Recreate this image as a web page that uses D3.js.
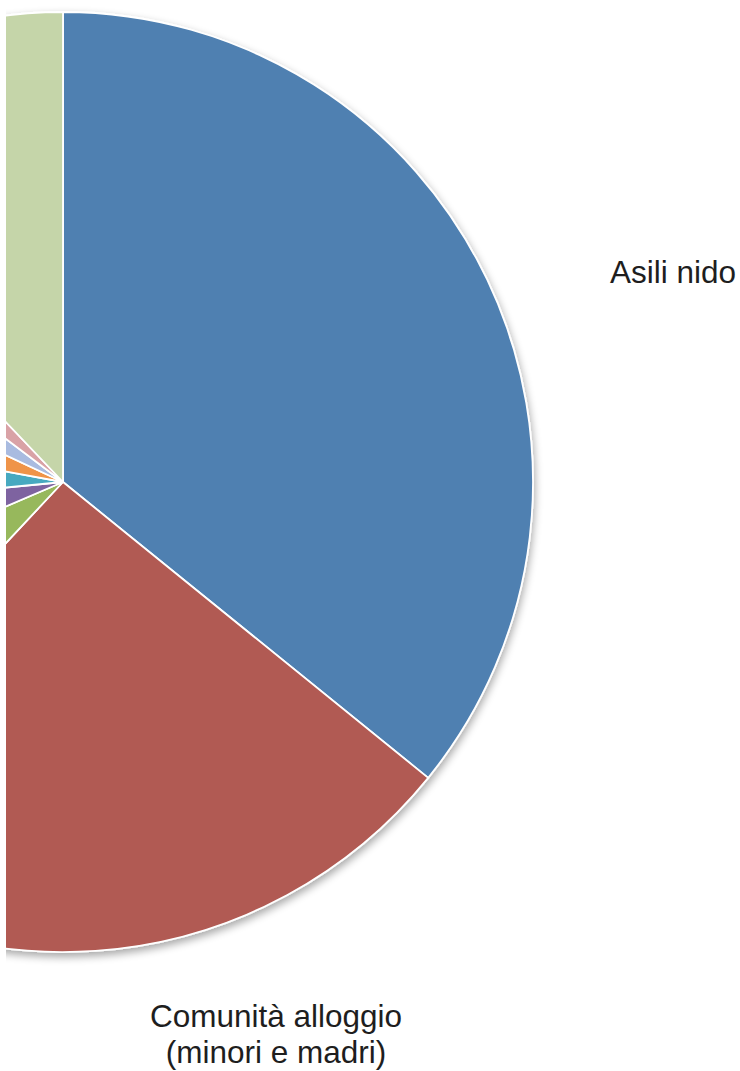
<!DOCTYPE html>
<html>
<head>
<meta charset="utf-8">
<script src="https://cdn.jsdelivr.net/npm/d3@7"></script>
<style>
  html, body { margin: 0; padding: 0; background: #ffffff; }
  svg { display: block; }
</style>
</head>
<body>
<svg id="chart"></svg>
<script>
// Service shares (%), clockwise from 12 o'clock
const categories = [
  "Asili nido",
  "Comunità alloggio (minori e madri)",
  "", "", "", "", "", "", ""
];
const shares = [35.8, 26.1, 6.6, 4.9, 4.4, 4.1, 3.3, 2.6, 12.1];
const sliceColors = [
  "#4f80b1", "#b15a52", "#97b85c", "#7e64a0", "#46a9c0",
  "#ef9448", "#a9bbe0", "#d9a2a6", "#c5d5a9"
];
// Label text split into lines (only the labels that fall inside the frame)
const labelLines = [
  ["Asili nido"],
  ["Comunità alloggio", "(minori e madri)"],
  [], [], [], [], [], [], []
];

const W = 740, H = 1071;
const cx = 63, cy = 482, R = 470;

// Label placement: offset of the text anchor from the pie centre
const labelLayout = [
  { dx: 547, dy: -199, anchor: "start" },
  { dx: 213, dy: 545, anchor: "middle" }
];
const lineGap = 36;

const svg = d3.select("#chart").attr("width", W).attr("height", H);
const defs = svg.append("defs");

defs.append("clipPath").attr("id", "frame")
  .append("rect").attr("x", 6).attr("y", 0).attr("width", W - 6).attr("height", H);

const shadow = defs.append("filter").attr("id", "soft")
  .attr("x", "-10%").attr("y", "-10%").attr("width", "120%").attr("height", "120%");
shadow.append("feGaussianBlur").attr("in", "SourceAlpha").attr("stdDeviation", 4).attr("result", "b");
shadow.append("feOffset").attr("in", "b").attr("dx", 1).attr("dy", 4).attr("result", "o");
shadow.append("feComponentTransfer").attr("in", "o").attr("result", "s")
  .append("feFuncA").attr("type", "linear").attr("slope", 0.35);
const merge = shadow.append("feMerge");
merge.append("feMergeNode").attr("in", "s");
merge.append("feMergeNode").attr("in", "SourceGraphic");

const data = shares.map((v, i) => ({ name: categories[i], value: v, color: sliceColors[i], i }));

const pie = d3.pie().sort(null).value(d => d.value);
const arc = d3.arc().innerRadius(0).outerRadius(R);

const g = svg.append("g").attr("clip-path", "url(#frame)")
  .append("g").attr("transform", `translate(${cx},${cy})`);

const arcs = pie(data);

g.append("g").attr("filter", "url(#soft)")
  .selectAll("path")
  .data(arcs)
  .join("path")
  .attr("d", arc)
  .attr("fill", d => d.data.color)
  .attr("stroke", "#ffffff")
  .attr("stroke-width", 1.8)
  .attr("stroke-linejoin", "round");

// Category labels
const labels = svg.append("g")
  .attr("font-family", "'Liberation Sans', Arial, sans-serif")
  .attr("font-size", 31.5)
  .attr("fill", "#1e1e1e");

labelLayout.forEach((pos, i) => {
  const t = labels.append("text")
    .attr("text-anchor", pos.anchor)
    .attr("x", cx + pos.dx)
    .attr("y", cy + pos.dy);
  labelLines[i].forEach((line, k) => {
    t.append("tspan")
      .attr("x", cx + pos.dx)
      .attr("dy", k === 0 ? 0 : lineGap)
      .text(line);
  });
});
</script>
</body>
</html>
